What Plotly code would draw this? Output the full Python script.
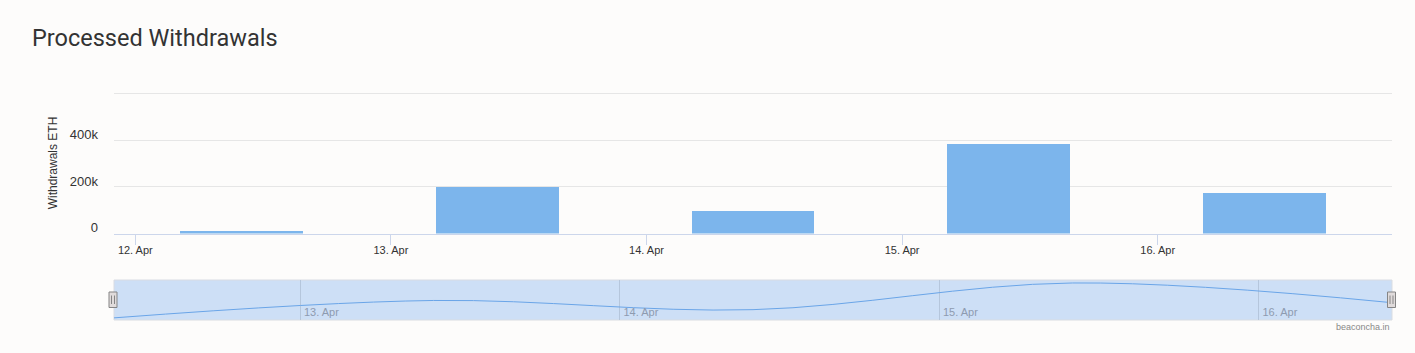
import plotly.graph_objects as go
import pandas as pd

# ---- data ----
dates = ["2023-04-12 10:00", "2023-04-13 10:00", "2023-04-14 10:00",
         "2023-04-15 10:00", "2023-04-16 10:00"]
withdrawals_eth = [13000, 200000, 101000, 388000, 176000]
y_tickvals = [0, 200000, 400000, 600000]
y_ticktext = ["0", "200k", "400k", ""]
title_text = "Processed Withdrawals"
y_title = "Withdrawals ETH"
credit_text = "beaconcha.in"

W, H = 1415, 353
def px_x(p):
    return p / W
def px_y(p):
    return 1 - p / H

ts = pd.to_datetime(dates)
day_ms = 86400000
half = pd.Timedelta(hours=12)
main_range = [(ts[0] - half).strftime("%Y-%m-%d %H:%M"), (ts[-1] + half).strftime("%Y-%m-%d %H:%M")]
nav_range = [ts[0].strftime("%Y-%m-%d %H:%M"), ts[-1].strftime("%Y-%m-%d %H:%M")]

fig = go.Figure()
fig.add_trace(go.Bar(
    x=dates, y=withdrawals_eth, width=0.481 * day_ms,
    marker=dict(color="#7cb5ec", line=dict(width=0)),
    xaxis="x", yaxis="y", hoverinfo="x+y", showlegend=False,
))
fig.add_trace(go.Scatter(
    x=dates, y=withdrawals_eth, mode="lines",
    line=dict(color="#6aa5e8", width=1, shape="spline", smoothing=1.0),
    xaxis="x2", yaxis="y2", hoverinfo="skip", showlegend=False,
))

main_x0, main_x1 = px_x(114), px_x(1392)
nav_top, nav_bot = 280, 320

shapes = [
    # navigator mask
    dict(type="rect", xref="paper", yref="paper",
         x0=main_x0, x1=main_x1, y0=px_y(nav_bot), y1=px_y(nav_top),
         fillcolor="#cddff6", line=dict(color="#d9dce2", width=1), layer="below"),
]
# handles
for cx in (113, 1391.5):
    shapes.append(dict(type="rect", xref="paper", yref="paper",
                       x0=px_x(cx - 4), x1=px_x(cx + 4), y0=px_y(307.5), y1=px_y(292),
                       fillcolor="#e0dbdb", line=dict(color="#858585", width=1), layer="above"))
    for dx in (-1.5, 1.5):
        shapes.append(dict(type="line", xref="paper", yref="paper",
                           x0=px_x(cx + dx), x1=px_x(cx + dx), y0=px_y(304), y1=px_y(295.5),
                           line=dict(color="#858585", width=1), layer="above"))

fig.update_layout(
    width=W, height=H, autosize=False,
    margin=dict(l=0, r=0, t=0, b=0, pad=0),
    paper_bgcolor="#fdfcfb", plot_bgcolor="rgba(0,0,0,0)",
    font=dict(family="Liberation Sans, Arial", color="#333333", size=11),
    title=dict(text=title_text, x=px_x(32), xref="paper", xanchor="left",
               y=px_y(38), yref="paper", yanchor="middle",
               font=dict(family="Roboto", size=23.5, color="#333333")),
    bargap=0,
    xaxis=dict(
        domain=[main_x0, main_x1], anchor="y", type="date", range=main_range,
        tickformat="%d. %b", dtick=day_ms, tick0="2023-04-12",
        showgrid=False, showline=True, linecolor="#ccd6eb", linewidth=1,
        ticks="outside", ticklen=10, tickcolor="#ccd6eb", tickwidth=1,
        tickfont=dict(size=11, color="#333333"), zeroline=False,
        ticklabelstandoff=-4, automargin=False,
    ),
    yaxis=dict(
        domain=[px_y(233.5), px_y(92.5)], anchor="x", range=[0, 606000],
        tickvals=y_tickvals, ticktext=y_ticktext,
        showgrid=True, gridcolor="#e6e6e6", gridwidth=1, zeroline=False,
        showline=False, tickfont=dict(size=13, color="#333333"),
        ticklabelstandoff=15, ticklabelshift=-6, automargin=False,
        title=dict(text=y_title, font=dict(size=12, color="#333333"), standoff=9),
    ),
    xaxis2=dict(
        domain=[main_x0, main_x1], anchor="y2", type="date", range=nav_range,
        dtick=day_ms, tick0="2023-04-12", tickformat="%d. %b",
        showgrid=True, gridcolor="#b5c6dc", gridwidth=1, showline=False,
        zeroline=False, ticks="", ticklabelposition="inside",
        ticklabelshift=21, ticklabelstandoff=-1,
        tickfont=dict(size=11, color="#8d9bb0"), automargin=False,
    ),
    yaxis2=dict(
        domain=[px_y(nav_bot), px_y(nav_top)], anchor="x2", range=[-10000, 420000],
        showgrid=False, showticklabels=False, zeroline=False, showline=False, ticks="",
        automargin=False,
    ),
    shapes=shapes,
    annotations=[
        dict(text=credit_text, xref="paper", yref="paper", x=px_x(1392), y=px_y(327),
             xanchor="right", yanchor="middle", showarrow=False,
             font=dict(size=9, color="#888888")),
    ],
)

fig.write_html("out.html")
